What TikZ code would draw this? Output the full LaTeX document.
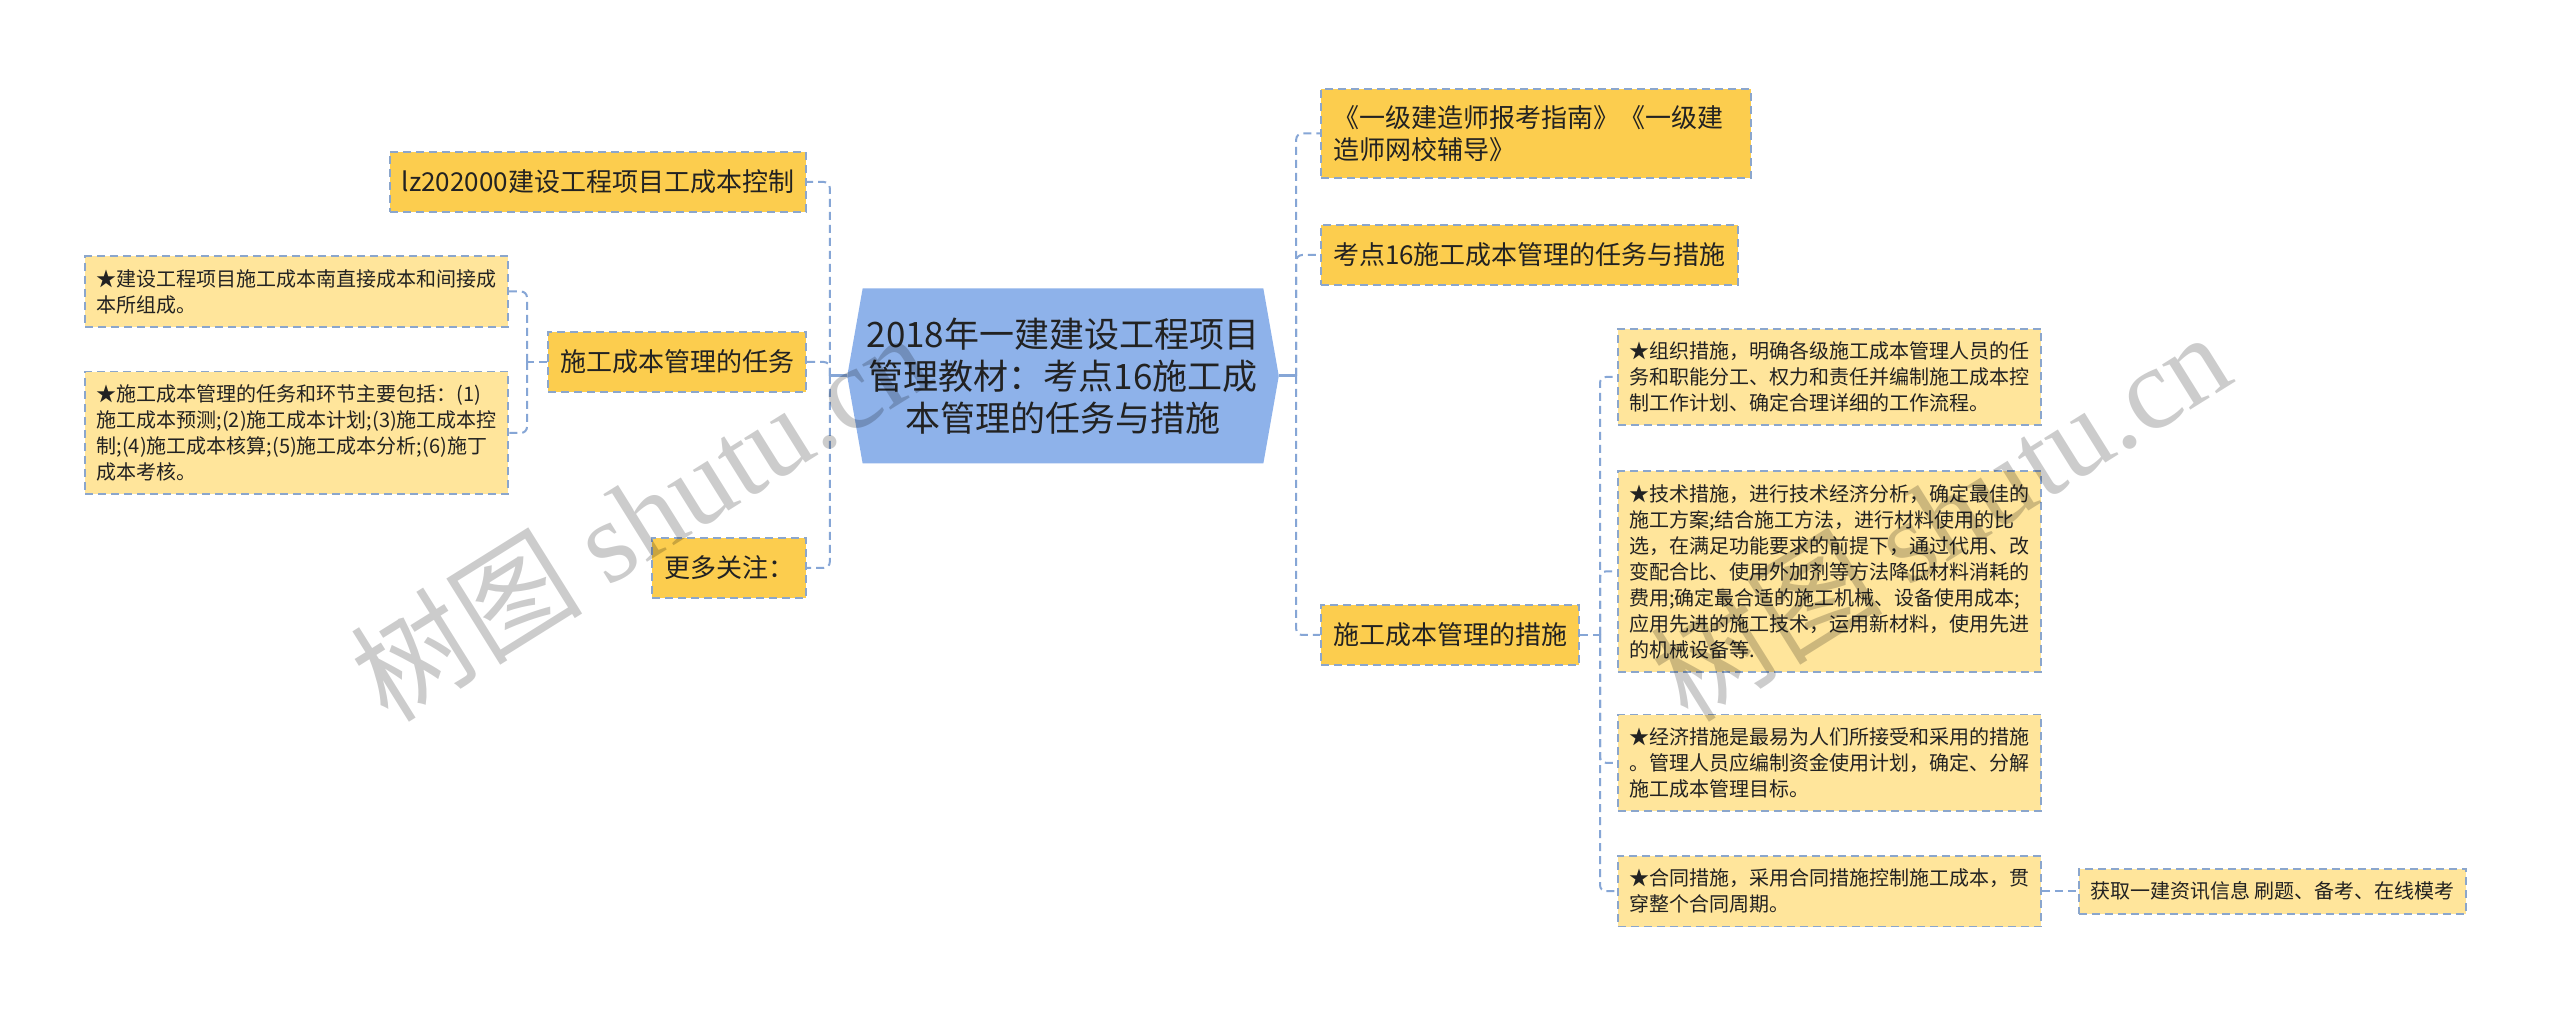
\documentclass[tikz,border=0pt]{standalone}
\usepackage{fontspec}
\setmainfont{Noto Sans CJK SC}
\newfontfamily\wmlatin{Liberation Serif}
\usepackage{tikz}
\usetikzlibrary{shapes.symbols,positioning}

\definecolor{hubblue}{HTML}{8EB2EA}
\definecolor{topicfill}{HTML}{FCCD4E}
\definecolor{leaffill}{HTML}{FFE59B}
\definecolor{edgeblue}{HTML}{8BA6CC}
\definecolor{linkblue}{HTML}{86A6D6}
\definecolor{inkgray}{HTML}{222222}

\begin{document}
\begin{tikzpicture}[x=0.5pt, y=-0.5pt,
  hub/.style={signal, signal to=west and east, signal pointer angle=160,
              fill=hubblue, text=inkgray, minimum width=207pt,
              minimum height=87.5pt, inner xsep=2pt, align=center,
              font=\fontsize{17.5}{21}\selectfont},
  topic/.style={rectangle, fill=topicfill, draw=edgeblue, line width=1pt,
                dash pattern=on 4pt off 2.5pt, minimum height=30pt,
                inner xsep=6pt, inner ysep=8pt, text=inkgray,
                font=\fontsize{13}{16}\selectfont},
  leaf/.style={rectangle, fill=leaffill, draw=edgeblue, line width=0.9pt,
               dash pattern=on 4pt off 2.5pt, inner xsep=5.75pt,
               inner ysep=6.5pt, text=inkgray, align=left,
               font=\fontsize{10}{13}\selectfont},
  note/.style={leaf, text width=200pt},
  link/.style={draw=linkblue, line width=1pt, dash pattern=on 4pt off 2.5pt,
               rounded corners=3pt},
  stem/.style={draw=linkblue, line width=1.5pt},
  wmark/.style={text=black, text opacity=0.2, rotate=32,
                font=\fontsize{58}{58}\selectfont},
]
\useasboundingbox (0,0) rectangle (2560,1015);
\fill[white] (0,0) rectangle (2560,1015);

\node[hub] (hub) at (1063,376) {2018年一建建设工程项目\\管理教材：考点16施工成\\本管理的任务与措施};

% left branch
\node[topic, anchor=east] (ctrl) at (807,182) {lz202000建设工程项目工成本控制};
\node[topic, anchor=east] (task) at (807,362) {施工成本管理的任务};
\node[topic, anchor=east] (more) at (807,568) {更多关注：};
\node[note, anchor=east] (compose) at (509,291.5) {★建设工程项目施工成本南直接成本和间接成\\本所组成。};
\node[note, below=21.5pt of compose] (steps) {★施工成本管理的任务和环节主要包括：(1)\\施工成本预测;(2)施工成本计划;(3)施工成本控\\制;(4)施工成本核算;(5)施工成本分析;(6)施丁\\成本考核。};

% right branch
\node[topic, anchor=west, text width=203pt, align=left] (guide) at (1320,133.5) {《一级建造师报考指南》《一级建\\造师网校辅导》};
\node[topic, anchor=west] (point) at (1320,255) {考点16施工成本管理的任务与措施};
\node[topic, anchor=west] (measure) at (1320,635) {施工成本管理的措施};
\node[note, anchor=west] (org) at (1617,377) {★组织措施，明确各级施工成本管理人员的任\\务和职能分工、权力和责任并编制施工成本控\\制工作计划、确定合理详细的工作流程。};
\node[note, below=22pt of org] (tech) {★技术措施，进行技术经济分析，确定最佳的\\施工方案;结合施工方法，进行材料使用的比\\选，在满足功能要求的前提下，通过代用、改\\变配合比、使用外加剂等方法降低材料消耗的\\费用;确定最合适的施工机械、设备使用成本;\\应用先进的施工技术，运用新材料，使用先进\\的机械设备等.};
\node[note, below=20.5pt of tech] (econ) {★经济措施是最易为人们所接受和采用的措施\\。管理人员应编制资金使用计划，确定、分解\\施工成本管理目标。};
\node[note, below=21.5pt of econ] (contract) {★合同措施，采用合同措施控制施工成本，贯\\穿整个合同周期。};
\node[leaf, right=18pt of contract] (info) {获取一建资讯信息 刷题、备考、在线模考};

% connectors
\draw[stem] (hub.east) -- ++(17,0) coordinate (rfork);
\foreach \t in {guide,point,measure} \draw[link] (rfork) |- (\t.west);
\draw[stem] (hub.west) -- ++(-17,0) coordinate (lfork);
\foreach \t in {ctrl,task,more} \draw[link] (lfork) |- (\t.east);
\draw[link] (task.west) -- ++(-20,0) coordinate (tfork);
\foreach \t in {compose,steps} \draw[link] (tfork) |- (\t.east);
\draw[link] (measure.east) -- ++(20,0) coordinate (mfork);
\foreach \t in {org,tech,econ,contract} \draw[link] (mfork) |- (\t.west);
\draw[link] (contract) -- (info);

% watermark
\node[wmark] (wm1) at (640,515) {树图 {\wmlatin shutu.cn}};
\node[wmark] (wm2) at (1940,515) {树图 {\wmlatin shutu.cn}};
\end{tikzpicture}
\end{document}
